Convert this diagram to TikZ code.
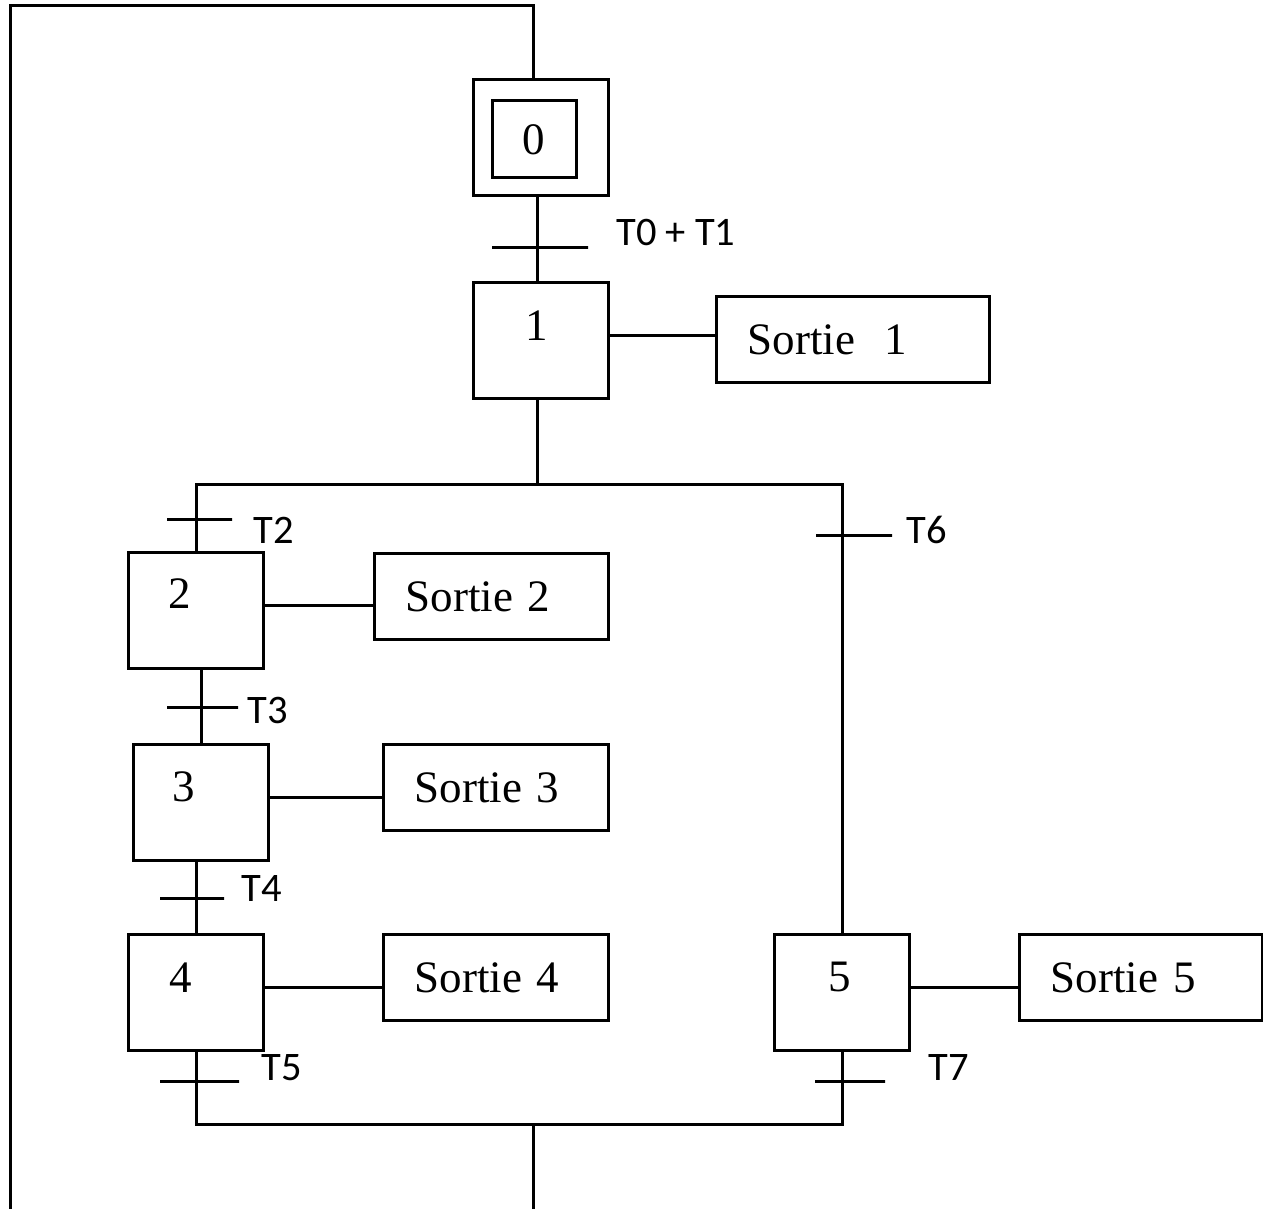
\documentclass[tikz,border=0pt]{standalone}
\usepackage{fontspec}
\setmainfont{Liberation Serif}
\newfontfamily\calibri{Carlito}
\tikzset{
  etape/.style={draw, anchor=north west, inner sep=0pt,
    minimum width=135pt, minimum height=116pt},
  num/.style={inner sep=0pt, font=\fontsize{45}{54}\selectfont},
  sortie/.style={draw, anchor=north west, inner xsep=31pt, inner ysep=0pt,
    minimum height=86pt, text width=#1, align=left,
    font=\fontsize{45}{54}\selectfont},
  trans/.style={draw, inner sep=0pt, minimum height=0pt, minimum width=#1},
  cond/.style={anchor=west, inner sep=0pt,
    font=\calibri\fontsize{40.5}{48}\selectfont},
}
\begin{document}
\begin{tikzpicture}[x=1pt, y=-1pt, line width=3pt]
  \useasboundingbox (0,0) rectangle (1263,1209);
  % etapes
  \node[etape] (s0) at (472,78) {};
  \node[draw, inner sep=0pt, minimum width=84pt, minimum height=77pt,
    font=\fontsize{45}{54}\selectfont] (s0i) at (534,139.5) {0};
  \node[etape] (s1) at (472,281) {};
  \node[etape] (s2) at (127,551) {};
  \node[etape] (s3) at (132,743) {};
  \node[etape] (s4) at (127,933) {};
  \node[etape] (s5) at (773,933) {};
  \node[num] (n1) at (537,326) {1};
  \node[num] (n2) at (180,594) {2};
  \node[num] (n3) at (184,787) {3};
  \node[num] (n4) at (181,978) {4};
  \node[num] (n5) at (840,977) {5};
  % actions
  \node[sortie=211pt] (a1) at (715,295) {Sortie\ \ 1};
  \node[sortie=172pt] (a2) at (373,552) {Sortie 2};
  \node[sortie=163pt] (a3) at (382,743) {Sortie 3};
  \node[sortie=163pt] (a4) at (382,933) {Sortie 4};
  \node[sortie=181pt] (a5) at (1018,933) {Sortie 5};
  % transitions
  \node[trans=96pt] (t1) at (540,247) {};
  \node[trans=65pt] (t2) at (199.5,519) {};
  \node[trans=71pt] (t3) at (202.5,707) {};
  \node[trans=64pt] (t4) at (192,898) {};
  \node[trans=79pt] (t5) at (199.5,1081) {};
  \node[trans=76pt] (t6) at (854,535) {};
  \node[trans=70pt] (t7) at (850,1081) {};
  \node[cond] (c1) at (615,232) {T0 + T1};
  \node[cond] (c2) at (252,530) {T2};
  \node[cond] (c3) at (246,710) {T3};
  \node[cond] (c4) at (240,888.5) {T4};
  \node[cond] (c5) at (260,1068) {T5};
  \node[cond] (c6) at (905,530) {T6};
  \node[cond] (c7) at (927,1067) {T7};
  \coordinate (ou) at (537,484);
  \coordinate (et) at (533,1124);
  \coordinate (h1) at (533,6);
  \coordinate (h2) at (10,6);
  \coordinate (b1) at (533,1209);
  \coordinate (b2) at (10,1209);
  % liaisons
  \draw (s0.south -| ou) -- (s1.north -| ou);
  \draw (s1.south -| ou) -- (ou);
  \draw (s2.north) |- (ou) -| (s5.north);
  \draw (s2.south -| s3.north) -- (s3.north);
  \draw (s3.south -| s4.north) -- (s4.north);
  \draw (s4.south) |- (et) -| (s5.south);
  \draw (et) -- (b1);
  \draw (s0.north -| h1) -- (h1) -- (h2) -- (b2);
  \foreach \i in {1,...,5}
    \draw ([yshift=5pt]s\i.east) -- ([yshift=5pt]s\i.east -| a\i.west);
\end{tikzpicture}
\end{document}
